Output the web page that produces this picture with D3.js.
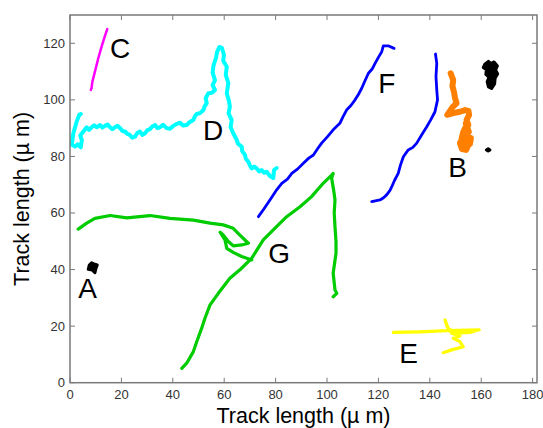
<!DOCTYPE html>
<html>
<head>
<meta charset="utf-8">
<script src="https://cdn.jsdelivr.net/npm/d3@7"></script>
<style>
  body { margin: 0; background: #fff; }
  svg { display: block; font-family: Arial, "Liberation Sans", Helvetica, sans-serif; }
</style>
</head>
<body>
<div id="chart"></div>
<script>
// axis ticks
const xTicks = [0, 20, 40, 60, 80, 100, 120, 140, 160, 180];
const yTicks = [0, 20, 40, 60, 80, 100, 120];

// tracks, [x, y] in µm
const trackC = [[8.1,103.5],[8.4,104.2],[8.7,106.4],[9.7,110.0],[11.0,114.7],[12.3,118.8],[13.6,122.6],[14.5,125.0]];

const trackD = [[4.2,95.0],[3.6,94.7],[2.6,92.3],[1.3,88.2],[0.7,84.1],[2.0,83.5],[3.0,84.3],[4.2,83.2],[4.6,85.8],
  [4.0,87.4],[5.2,88.8],[6.5,90.3],[7.4,89.4],[8.4,90.3],[9.4,91.0],[10.4,90.3],[11.7,91.1],[12.6,90.2],
  [13.6,90.8],[14.6,91.3],[15.6,90.3],[16.5,89.6],[17.5,90.3],[18.5,90.8],[19.5,90.0],[20.4,89.0],
  [21.4,88.8],[22.3,88.0],[23.3,87.6],[24.2,86.6],[25.3,87.0],[26.2,88.3],[27.2,88.8],[28.2,87.6],
  [29.2,88.2],[30.2,89.4],[31.1,89.6],[32.0,90.6],[33.1,91.1],[34.0,90.0],[35.0,90.3],[36.2,91.2],
  [37.6,90.0],[38.9,89.8],[40.2,90.8],[41.5,91.5],[42.8,91.9],[44.0,90.9],[45.4,91.1],[46.6,92.2],
  [48.0,92.9],[48.6,94.2],[49.3,95.0],[50.6,95.3],[51.9,96.4],[52.4,97.8],[53.2,98.8],[52.8,100.6],
  [53.8,102.3],[55.2,102.5],[56.4,103.5],[55.5,105.2],[56.4,107.0],[55.5,109.6],[55.8,112.0],[56.8,114.8],
  [57.2,116.9],[58.1,118.7],[59.1,118.4],[59.9,115.9],[59.6,113.8],[61.0,111.7],[60.6,108.8],[61.6,105.9],
  [61.0,102.3],[61.8,99.8],[62.2,97.6],[61.7,95.2],[62.9,92.9],[62.5,90.4],[63.5,88.2],[64.9,85.8],
  [65.4,84.4],[66.8,83.5],[67.0,81.9],[68.1,80.5],[68.4,79.2],[69.4,78.1],[70.0,76.8],[70.7,75.8],
  [71.7,76.4],[72.6,75.8],[73.6,74.7],[74.6,75.2],[75.6,74.2],[76.5,74.6],[77.8,73.1],[79.1,72.4],
  [79.4,75.2],[80.4,75.9]];

const trackF = [[73.3,58.7],[75.5,61.5],[77.8,64.6],[80.1,67.8],[82.4,70.5],[84.6,72.0],[86.3,74.0],
  [88.6,75.6],[90.8,77.6],[92.9,79.4],[94.7,80.5],[96.4,82.8],[97.9,84.7],[100.2,87.0],[102.4,89.4],
  [105.0,91.7],[106.2,94.0],[107.6,96.4],[109.3,98.0],[110.9,100.0],[112.2,101.9],[113.5,104.1],
  [114.9,107.0],[116.1,109.4],[117.5,110.8],[118.7,112.9],[120.1,115.2],[121.3,117.0],[121.9,119.1],
  [123.8,119.1],[126.1,118.2]];

const trackB1 = [[117.4,64.0],[120.6,64.6],[122.0,65.4],[123.2,66.4],[124.5,68.0],[125.2,69.3],[126.2,71.4],
  [127.7,74.0],[128.6,77.0],[129.7,79.9],[131.6,82.3],[133.4,83.2],[134.9,84.7],[136.8,87.6],[138.8,90.5],
  [140.4,93.0],[142.0,95.8],[143.0,100.0],[142.7,103.5],[142.4,108.2],[142.7,112.9],[142.2,116.2]];

const trackB2 = [[148.1,109.4],[149.1,107.0],[148.8,104.9],[149.4,102.8],[149.8,100.7],[150.4,98.8],
  [148.9,97.5],[146.8,94.7],[149.1,95.3],[151.7,95.8],[153.7,96.4],[155.0,96.1],[155.3,94.7],
  [154.3,92.9],[155.0,91.1],[153.7,90.0],[153.0,88.6],[152.4,86.4],[153.7,85.2],[154.8,83.7],
  [154.1,82.3],[152.5,82.6],[151.7,84.8],[154.1,87.2],[156.0,86.5],[155.6,84.4],[153.2,83.3],
  [152.2,85.6],[155.2,88.6],[154.0,91.6]];

const trackG1 = [[3.2,54.3],[6.5,56.4],[9.7,58.1],[15.6,59.1],[22.1,58.3],[31.1,59.1],[38.9,58.1],
  [48.0,57.5],[54.5,56.4],[59.6,55.8],[63.5,54.6],[66.1,52.2],[69.4,49.3],[66.8,48.7],[63.5,48.4],
  [61.6,49.9],[59.6,52.2],[58.4,53.2],[60.3,50.5],[61.0,47.5],[63.5,46.1],[66.8,44.6],[70.7,43.4]];

const trackG2 = [[43.5,5.1],[45.4,6.9],[48.0,11.0],[49.3,14.5],[51.2,19.2],[52.5,22.8],[54.5,27.5],
  [57.7,31.6],[62.2,36.9],[66.1,39.9],[70.7,44.0],[75.2,50.5],[79.1,54.0],[84.3,58.7],[89.5,62.2],
  [94.0,65.8],[98.5,70.5],[101.8,73.4],[102.4,74.0],[101.8,72.3],[102.6,68.0],[103.1,64.6],[102.8,60.0],
  [103.1,55.2],[103.5,50.0],[103.5,45.8],[102.9,42.0],[102.4,38.7],[103.1,32.8],[103.8,31.6],[102.4,30.4]];

const trackE = [[125.8,17.8],[136.2,18.0],[146.6,18.4],[159.2,18.7],[155.6,17.8],[150.4,17.5],
  [147.2,19.0],[145.9,22.2],[146.7,20.0],[148.5,17.5],[151.7,16.5],[149.1,15.7],[151.7,14.5],
  [153.0,12.7],[148.5,11.6],[145.2,10.6]];

// stationary cells (black blobs)
const blobA = [[7.5,41.6],[8.4,42.4],[9.3,42.0],[10.6,41.6],[10.1,40.4],[9.7,38.9],[8.7,39.8],[7.1,40.1]];
const blobTop = [[161.4,112.6],[162.8,113.6],[163.7,112.8],[165.0,113.4],[166.3,112.0],[165.6,110.6],
  [166.4,109.2],[165.4,107.6],[165.2,105.6],[164.0,104.0],[162.8,104.6],[162.3,106.4],[163.0,108.0],
  [161.8,109.0],[162.0,110.6],[160.8,111.4]];
const blobDot = [[162.0,82.3],[162.7,82.7],[163.4,82.3],[162.7,81.9]];

const tracks = [
  { pts: trackD, color: "#00ffff", w: 4 },
  { pts: trackC, color: "#ff00ff", w: 2.5 },
  { pts: trackF, color: "#0000ff", w: 2.8 },
  { pts: trackB1, color: "#0000ff", w: 2.8 },
  { pts: trackB2, color: "#ff8000", w: 6 },
  { pts: trackG1, color: "#00cc00", w: 3.2 },
  { pts: trackG2, color: "#00cc00", w: 3.2 },
  { pts: trackE, color: "#ffff00", w: 3.2 }
];
const blobs = [blobA, blobTop, blobDot];

// letter labels at [x, y] in µm
const labelNames = ["A", "B", "C", "D", "E", "F", "G"];
const labelPos = [[3.2,29.8],[147.2,72.8],[15.6,114.7],[51.7,85.8],[128.1,6.9],[119.9,102.3],[77.1,42.2]];

const width = 543, height = 428;
const margin = { top: 15, right: 6, bottom: 45.3, left: 70 };

const svg = d3.select("#chart").append("svg")
  .attr("width", width)
  .attr("height", height);

const x = d3.scaleLinear().domain([0, 181.7]).range([margin.left, width - margin.right]);
const y = d3.scaleLinear().domain([0, 130]).range([height - margin.bottom, margin.top]);

const line = d3.line().x(d => x(d[0])).y(d => y(d[1]));
const closed = d3.line().x(d => x(d[0])).y(d => y(d[1])).curve(d3.curveLinearClosed);

// tracks
svg.selectAll("path.track")
  .data(tracks)
  .enter()
  .append("path")
  .attr("class", "track")
  .attr("d", d => line(d.pts))
  .attr("fill", "none")
  .attr("stroke", d => d.color)
  .attr("stroke-width", d => d.w)
  .attr("stroke-linejoin", "round")
  .attr("stroke-linecap", "round");

svg.selectAll("path.blob")
  .data(blobs)
  .enter()
  .append("path")
  .attr("class", "blob")
  .attr("d", d => closed(d))
  .attr("fill", "#000")
  .attr("stroke", "#000")
  .attr("stroke-width", 3)
  .attr("stroke-linejoin", "round");

// letters
svg.selectAll("text.lbl")
  .data(labelNames)
  .enter()
  .append("text")
  .attr("class", "lbl")
  .attr("x", (d, i) => x(labelPos[i][0]))
  .attr("y", (d, i) => y(labelPos[i][1]))
  .attr("fill", "#000")
  .style("font-size", "28px")
  .text(d => d);

// frame and ticks
const axisColor = "#7a7a7a";
const x0 = x.range()[0], x1 = x.range()[1];
const y0 = y.range()[0], y1 = y.range()[1];

svg.append("rect")
  .attr("x", x0).attr("y", y1)
  .attr("width", x1 - x0).attr("height", y0 - y1)
  .attr("fill", "none")
  .attr("stroke", axisColor)
  .attr("stroke-width", 1.5);

const tickLen = 5;
xTicks.forEach(t => {
  svg.append("line").attr("x1", x(t)).attr("x2", x(t)).attr("y1", y0).attr("y2", y0 - tickLen).attr("stroke", axisColor);
  svg.append("line").attr("x1", x(t)).attr("x2", x(t)).attr("y1", y1).attr("y2", y1 + tickLen).attr("stroke", axisColor);
});
yTicks.forEach(t => {
  svg.append("line").attr("x1", x0).attr("x2", x0 + tickLen).attr("y1", y(t)).attr("y2", y(t)).attr("stroke", axisColor);
  svg.append("line").attr("x1", x1).attr("x2", x1 - tickLen).attr("y1", y(t)).attr("y2", y(t)).attr("stroke", axisColor);
});

svg.selectAll("text.xtick")
  .data(xTicks)
  .enter()
  .append("text")
  .attr("class", "xtick")
  .attr("x", d => x(d))
  .attr("y", y0 + 16)
  .attr("text-anchor", "middle")
  .attr("fill", "#333")
  .style("font-size", "13px")
  .text(d => d);

svg.selectAll("text.ytick")
  .data(yTicks)
  .enter()
  .append("text")
  .attr("class", "ytick")
  .attr("x", x0 - 5)
  .attr("y", d => y(d) + 4.5)
  .attr("text-anchor", "end")
  .attr("fill", "#333")
  .style("font-size", "13px")
  .text(d => d);

// axis titles
svg.append("text")
  .attr("x", (x0 + x1) / 2)
  .attr("y", 423)
  .attr("text-anchor", "middle")
  .attr("fill", "#000")
  .style("font-size", "21.5px")
  .text("Track length (\u00b5 m)");

svg.append("text")
  .attr("transform", `translate(29,${(y0 + y1) / 2}) rotate(-90)`)
  .attr("text-anchor", "middle")
  .attr("fill", "#000")
  .style("font-size", "21.5px")
  .text("Track length (\u00b5 m)");
</script>
</body>
</html>
